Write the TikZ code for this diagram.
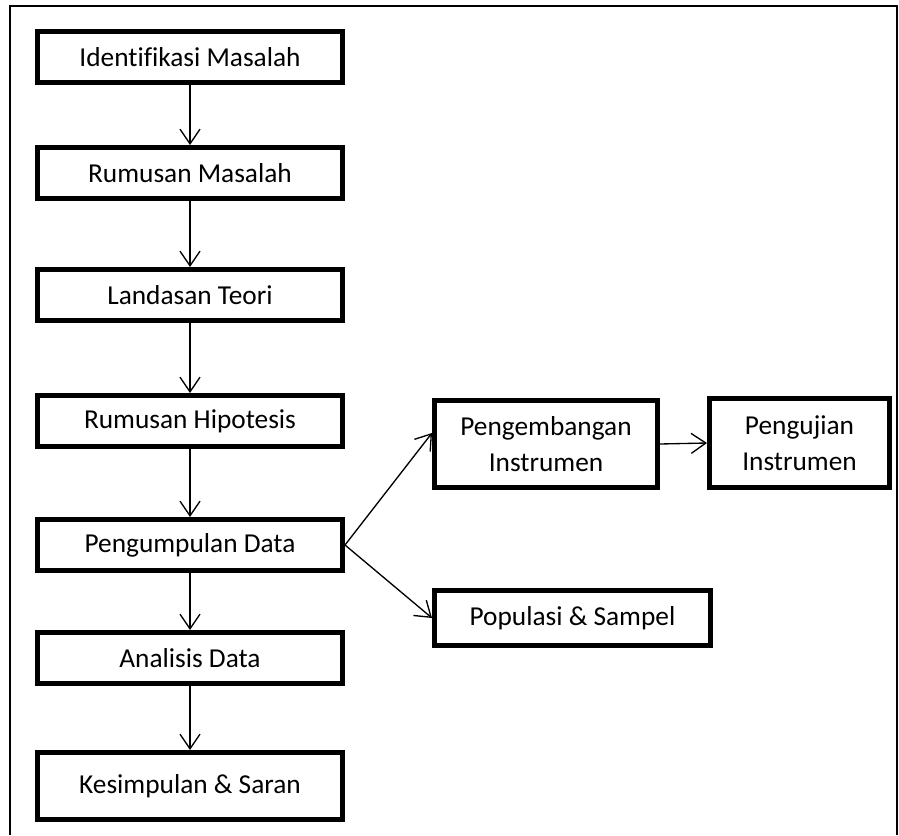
\documentclass[tikz,border=0pt]{standalone}
\usepackage{fontspec}
\setmainfont{Carlito}[Ligatures=NoCommon]
\usetikzlibrary{arrows.meta,calc}

\tikzset{
  stepbox/.style={draw,line width=3.75pt,inner sep=0pt,align=center,
    minimum width=228.75pt,minimum height=38.25pt,
    font=\fontsize{20.5}{27}\selectfont},
  flow/.style={line width=1pt,-{Straight Barb[length=11pt,width=15pt,line width=1pt]}},
}

\begin{document}
\begin{tikzpicture}[x=0.75pt,y=-0.75pt,line cap=round,line join=miter]
  \useasboundingbox (0,0) rectangle (899,835);

  % frame, open at the bottom
  \draw[line width=1.5pt,line cap=butt] (10,835) -- (10,6) -- (897,6) -- (897,835);

  \node[stepbox] (idm) at (190,57) {Identifikasi Masalah};
  \node[stepbox] (rm) at (190,173) {Rumusan Masalah};
  \node[stepbox] (lt) at (190,295) {Landasan Teori};
  \node[stepbox] (rh) at (190,421) {Rumusan Hipotesis};
  \node[stepbox] (pd) at (190,545) {Pengumpulan Data};
  \node[stepbox] (ad) at (190,658) {Analisis Data};
  \node[stepbox,minimum height=50.25pt] (ks) at (190,786) {Kesimpulan \& Saran};

  \node[stepbox,minimum width=167.25pt,minimum height=65.25pt] (pi) at (546,444) {Pengembangan\\Instrumen};
  \node[stepbox,minimum width=135pt,minimum height=66.75pt] (ui) at (799.5,443) {Pengujian\\Instrumen};
  \node[stepbox,minimum width=207pt,minimum height=41.25pt] (ps) at (572.5,618) {Populasi \& Sampel};

  \draw[flow] (idm) -- (rm);
  \draw[flow] (rm) -- (lt);
  \draw[flow] (lt) -- (rh);
  \draw[flow] (rh) -- (pd);
  \draw[flow] (pd) -- (ad);
  \draw[flow] (ad) -- (ks);

  \draw[flow] (pd.east) -- ($(pi.north west)!0.38!(pi.south west)$);
  \draw[flow] (pd.east) -- (ps.west);
  \draw[flow] (pi.east) -- (ui.west);
\end{tikzpicture}
\end{document}
